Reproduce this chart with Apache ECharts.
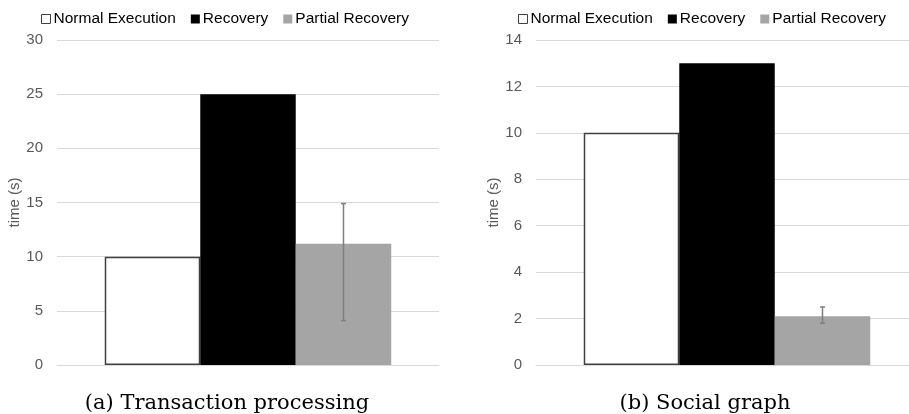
<!DOCTYPE html>
<html>
<head>
<meta charset="utf-8">
<script src="https://cdn.jsdelivr.net/npm/echarts@6/dist/echarts.min.js"></script>
<style>
  html, body { margin: 0; padding: 0; background: #fff; overflow: hidden; }
  #chart { width: 920px; height: 414px; }
</style>
</head>
<body>
<div id="chart"></div>
<script>
// Recovery time measurements for two workloads
const seriesNames = ['Normal Execution', 'Recovery', 'Partial Recovery'];
const categories = ['run'];

// (a) Transaction processing
const txnNormal = [10];
const txnRecovery = [25];
const txnPartial = [11.2];
const txnPartialRange = [[4.1, 14.9]];   // low / high of the partial recovery runs

// (b) Social graph
const socialNormal = [10];
const socialRecovery = [13];
const socialPartial = [2.1];
const socialPartialRange = [[1.8, 2.5]];

const yTicksA = { min: 0, max: 30, interval: 5 };
const yTicksB = { min: 0, max: 14, interval: 2 };

const captions = ['(a) Transaction processing', '(b) Social graph'];

const colors = { normal: '#ffffff', recovery: '#000000', partial: '#a5a5a5' };
const labelFont = '"Liberation Sans", Arial, sans-serif';

const chart = echarts.init(document.getElementById('chart'), null, { renderer: 'canvas' });

function errorBarSeries(gridIdx, ranges) {
  return {
    type: 'custom',
    xAxisIndex: gridIdx,
    yAxisIndex: gridIdx,
    silent: true,
    z: 5,
    data: ranges.map((r, i) => [i, r[0], r[1]]),
    renderItem: function (params, api) {
      const band = api.size([1, 0])[0];
      const cx = api.coord([api.value(0), 0])[0] + band * 0.25; // third bar of the group
      const lo = api.coord([api.value(0), api.value(1)])[1];
      const hi = api.coord([api.value(0), api.value(2)])[1];
      const cap = 2.5;
      const style = { stroke: '#7f7f7f', lineWidth: 1.5 };
      return {
        type: 'group',
        children: [
          { type: 'line', shape: { x1: cx, y1: lo, x2: cx, y2: hi }, style },
          { type: 'line', shape: { x1: cx - cap, y1: hi, x2: cx + cap, y2: hi }, style },
          { type: 'line', shape: { x1: cx - cap, y1: lo, x2: cx + cap, y2: lo }, style }
        ]
      };
    }
  };
}

function barSeries(gridIdx, normal, recovery, partial) {
  const common = { type: 'bar', xAxisIndex: gridIdx, yAxisIndex: gridIdx, barGap: '0%', barCategoryGap: '25%' };
  return [
    Object.assign({ name: seriesNames[0], data: normal,
      itemStyle: { color: colors.normal, borderColor: '#404040', borderWidth: 1.5 } }, common),
    Object.assign({ name: seriesNames[1], data: recovery,
      itemStyle: { color: colors.recovery } }, common),
    Object.assign({ name: seriesNames[2], data: partial,
      itemStyle: { color: colors.partial } }, common)
  ];
}

function yAxis(gridIdx, ticks, nameGap) {
  return {
    type: 'value', gridIndex: gridIdx,
    min: ticks.min, max: ticks.max, interval: ticks.interval,
    name: 'time (s)', nameLocation: 'middle', nameGap: nameGap,
    nameTextStyle: { color: '#595959', fontSize: 15, fontFamily: labelFont },
    axisLine: { show: false }, axisTick: { show: false },
    axisLabel: { color: '#595959', fontSize: 15, fontFamily: labelFont, margin: 14 },
    splitLine: { lineStyle: { color: '#d9d9d9', width: 1 } }
  };
}

function xAxis(gridIdx) {
  return {
    type: 'category', gridIndex: gridIdx, data: categories,
    axisLine: { show: true, lineStyle: { color: '#d9d9d9' } },
    axisTick: { show: false }, axisLabel: { show: false }
  };
}

function legend(left) {
  return {
    left: left, top: 6,
    itemWidth: 9, itemHeight: 9, itemGap: 15,
    icon: 'rect',
    data: [
      { name: seriesNames[0], itemStyle: { borderWidth: 1, borderColor: '#404040' } },
      { name: seriesNames[1] },
      { name: seriesNames[2] }
    ],
    textStyle: { color: '#000', fontSize: 15.5, fontFamily: labelFont, padding: [0, 0, 0, -2] }
  };
}

chart.setOption({
  animation: false,
  backgroundColor: '#ffffff',
  legend: [legend(36), legend(513)],
  grid: [
    { left: 57, top: 40, width: 382, height: 325 },
    { left: 536, top: 40, width: 382, height: 325 }
  ],
  xAxis: [xAxis(0), xAxis(1)],
  yAxis: [yAxis(0, yTicksA, 33), yAxis(1, yTicksB, 32)],
  series: [
    ...barSeries(0, txnNormal, txnRecovery, txnPartial),
    errorBarSeries(0, txnPartialRange),
    ...barSeries(1, socialNormal, socialRecovery, socialPartial),
    errorBarSeries(1, socialPartialRange)
  ],
  graphic: [
    { type: 'text', x: 227, y: 404, style: { text: captions[0], font: '21px "DejaVu Serif", serif',
      fill: '#000', textAlign: 'center', textVerticalAlign: 'middle' } },
    { type: 'text', x: 705, y: 404, style: { text: captions[1], font: '21px "DejaVu Serif", serif',
      fill: '#000', textAlign: 'center', textVerticalAlign: 'middle' } }
  ]
});
</script>
</body>
</html>
